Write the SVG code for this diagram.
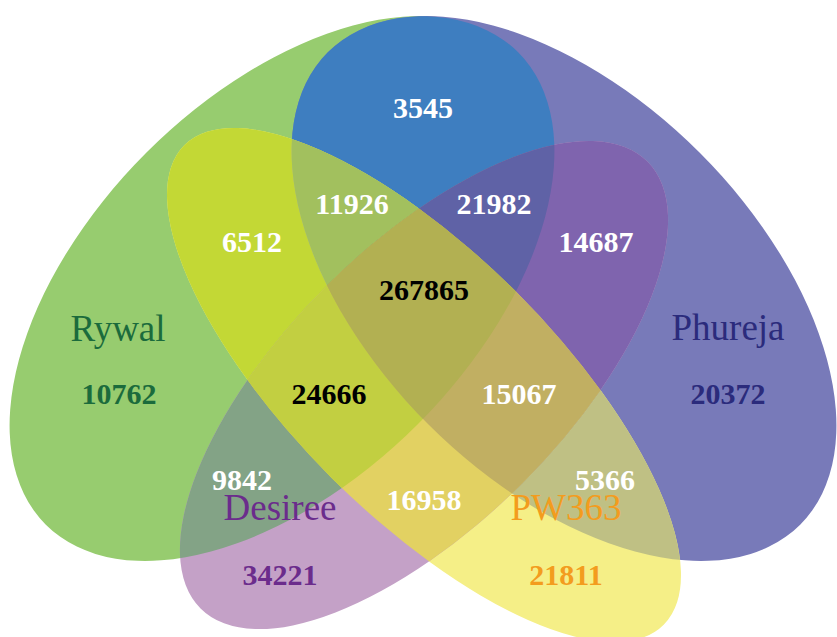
<svg xmlns="http://www.w3.org/2000/svg" xmlns:xlink="http://www.w3.org/1999/xlink" width="837" height="637" viewBox="0 0 837 637">
<style>
.num{font-family:"Liberation Serif","Times New Roman",serif;font-weight:bold;font-size:30px;text-anchor:middle;fill:#ffffff}
.lab{font-family:"Liberation Serif","Times New Roman",serif;font-size:37px;text-anchor:middle}
.dark{fill:#000000}
.gr{fill:#1b6b3c}
.nv{fill:#2b2b7c}
.pu{fill:#6b2c8c}
.or{fill:#f39c1e}
</style>
<defs>
<ellipse id="eG" cx="282" cy="288.5" rx="334" ry="192" transform="rotate(-45 282 288.5)"/>
<ellipse id="eP" cx="564" cy="288.5" rx="334" ry="192" transform="rotate(45 564 288.5)"/>
<ellipse id="eY" cx="424" cy="385" rx="339" ry="131" transform="rotate(45 424 385)"/>
<ellipse id="eD" cx="424" cy="385" rx="316" ry="139" transform="rotate(-45 424 385)"/>
<clipPath id="cG"><ellipse cx="282" cy="288.5" rx="334" ry="192" transform="rotate(-45 282 288.5)"/></clipPath>
<clipPath id="cP"><ellipse cx="564" cy="288.5" rx="334" ry="192" transform="rotate(45 564 288.5)"/></clipPath>
<clipPath id="cY"><ellipse cx="424" cy="385" rx="339" ry="131" transform="rotate(45 424 385)"/></clipPath>
<clipPath id="cD"><ellipse cx="424" cy="385" rx="316" ry="139" transform="rotate(-45 424 385)"/></clipPath>
</defs>
<g id="set-rywal"><use href="#eG" fill="#97cc6f"/></g>
<g id="set-phureja"><use href="#eP" fill="#787ab9"/></g>
<g id="set-pw363"><use href="#eY" fill="#f5ef87"/></g>
<g id="set-desiree"><use href="#eD" fill="#c4a1c7"/></g>
<g id="overlaps">
<g clip-path="url(#cG)"><use href="#eP" fill="#3e7ec0"/></g>
<g clip-path="url(#cG)"><use href="#eY" fill="#c3d835"/></g>
<g clip-path="url(#cG)"><use href="#eD" fill="#83a386"/></g>
<g clip-path="url(#cP)"><use href="#eY" fill="#bfc084"/></g>
<g clip-path="url(#cP)"><use href="#eD" fill="#7f64ae"/></g>
<g clip-path="url(#cY)"><use href="#eD" fill="#e2d162"/></g>
<g clip-path="url(#cG)"><g clip-path="url(#cP)"><use href="#eY" fill="#a2c05e"/></g></g>
<g clip-path="url(#cG)"><g clip-path="url(#cP)"><use href="#eD" fill="#5f62a6"/></g></g>
<g clip-path="url(#cG)"><g clip-path="url(#cY)"><use href="#eD" fill="#c2cf41"/></g></g>
<g clip-path="url(#cP)"><g clip-path="url(#cY)"><use href="#eD" fill="#c1af62"/></g></g>
<g clip-path="url(#cG)"><g clip-path="url(#cP)"><g clip-path="url(#cY)"><use href="#eD" fill="#b2b052"/></g></g></g>
</g>
<g id="labels">
<text class="num" x="423" y="118">3545</text>
<text class="num" x="352" y="214">11926</text>
<text class="num" x="494" y="214">21982</text>
<text class="num" x="252" y="252">6512</text>
<text class="num" x="596" y="252">14687</text>
<text class="num dark" x="424" y="300">267865</text>
<text class="lab gr" x="118" y="341">Rywal</text>
<text class="lab nv" x="728" y="340">Phureja</text>
<text class="num gr" x="119" y="404">10762</text>
<text class="num dark" x="329" y="404">24666</text>
<text class="num" x="519" y="404">15067</text>
<text class="num nv" x="728" y="404">20372</text>
<text class="num" x="242" y="490">9842</text>
<text class="num" x="605" y="490">5366</text>
<text class="num" x="424" y="510">16958</text>
<text class="lab pu" x="280" y="520">Desiree</text>
<text class="lab or" x="566" y="520">PW363</text>
<text class="num pu" x="280" y="585">34221</text>
<text class="num or" x="566" y="585">21811</text>
</g>
</svg>
